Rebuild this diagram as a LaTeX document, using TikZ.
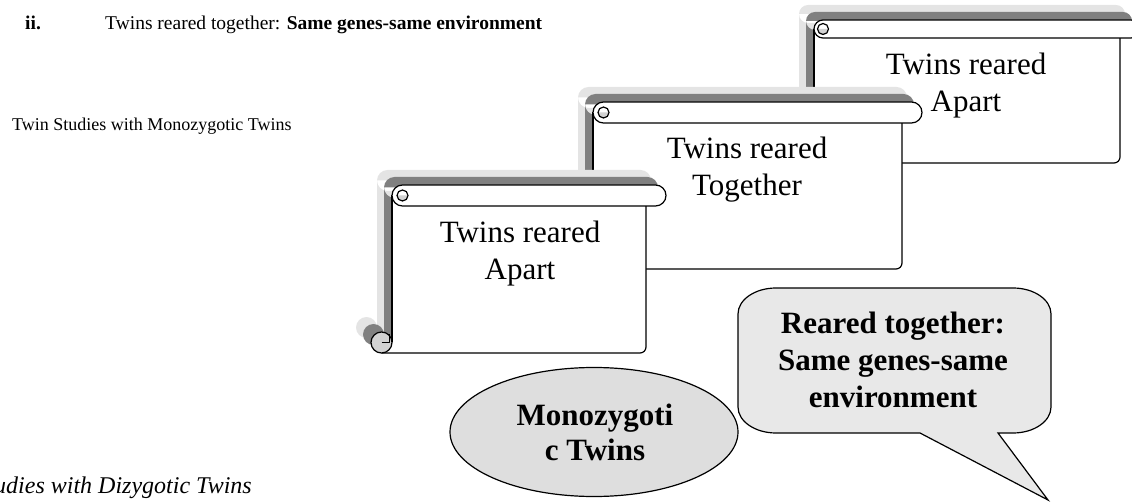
\documentclass[tikz,border=0pt]{standalone}
\usepackage{fontspec}
\setmainfont{Liberation Serif}
\usepackage{tikz}
\usetikzlibrary{shapes.geometric, positioning}

\definecolor{shadowdark}{HTML}{808080}
\definecolor{shadowlight}{HTML}{E4E4E4}
\definecolor{curlgray}{HTML}{D2D2D2}
\definecolor{bubblegray}{HTML}{E8E8E8}
\definecolor{monogray}{HTML}{DEDEDE}

\tikzset{
	scrollline/.style={line width=1.2pt, line join=round},
	scrolltext/.style={font=\fontsize{31}{37}\selectfont, align=center, anchor=base, inner sep=0pt},
	bubbletext/.style={font=\bfseries\fontsize{31}{37}\selectfont, align=center, anchor=base, inner sep=0pt},
	headtext/.style={font=\fontsize{19.5}{24}\selectfont, anchor=base west, inner sep=0pt},
	monoshape/.style={ellipse, draw, fill=monogray, line width=1.2pt, minimum width=288pt, minimum height=129pt, inner sep=0pt},
}

% scroll: left, top, right, bottom, roll height
\newcommand{\twinscroll}[5]{%
	\pgfmathsetmacro{\scR}{#5/2}
	\pgfmathsetmacro{\scLa}{#1+\scR}
	\pgfmathsetmacro{\scRa}{#3+20-\scR}
	\pgfmathsetmacro{\scTm}{#2+\scR}
	\pgfmathsetmacro{\scTb}{#2+#5}
	\pgfmathsetmacro{\scCx}{#1-10.5}
	\pgfmathsetmacro{\scCy}{#4-10.5}
	\pgfmathsetmacro{\scLm}{#1-2.5}
	% two shadows up and to the left
	\foreach \off/\col in {15/shadowlight, 8/shadowdark}
	\fill[\col, shift={(-\off,-\off)}] (\scLa,#2) -- (\scRa,#2) arc[start angle=-90, end angle=90, radius=\scR] -- (\scLa,\scTb) arc[start angle=90, end angle=270, radius=\scR] -- cycle (#1,\scTm) rectangle (#3,#4) (\scCx,\scCy) circle[radius=10.5];
	% sheet
	\fill[white, rounded corners=6] (#1,\scTm) -- (#3,\scTm) -- (#3,#4) -- (#1,#4) -- cycle;
	\draw[scrollline] (#1,\scTm) -- (#1,\scCy);
	\draw[scrollline, rounded corners=6] (\scCx,#4) -- (#3,#4) -- (#3,\scTb);
	% bottom curl
	\filldraw[scrollline, fill=curlgray] (\scCx,\scCy) circle[radius=10.5];
	\draw[scrollline] (\scCx,\scCy) -- (\scLm,\scCy) -- (\scLm,{\scCy-8});
	% top roll
	\filldraw[scrollline, fill=white] (\scLa,#2) -- (\scRa,#2) arc[start angle=-90, end angle=90, radius=\scR] -- (\scLa,\scTb) arc[start angle=90, end angle=270, radius=\scR] -- cycle;
	\fill[curlgray] ({\scLa-5.5},\scTm) arc[start angle=180, end angle=0, radius=5.5] -- cycle;
	\draw[scrollline] (\scLa,\scTm) circle[radius=5.5];
}

\begin{document}
\begin{tikzpicture}[x=1pt, y=-1pt]
	\useasboundingbox (0,0) rectangle (1132,502);
	
	% Text around the picture
	\node[headtext] (roman) at (25,30) {\textbf{ii.}};
	\node[headtext] (pointtwo) at (105,30) {Twins reared together: \textbf{Same genes-same environment}};
	\node[headtext, font=\fontsize{18}{22}\selectfont] (monohead) at (12,131) {Twin Studies with Monozygotic Twins};
	\node[headtext, anchor=base east, font=\itshape\fontsize{24}{28}\selectfont] (dihead) at (252,493) {Twin Studies with Dizygotic Twins};
	
	% Draw the scrolls, back to front (text anchored on last line)
	\twinscroll{814}{20}{1120}{163}{18}
	\node[scrolltext] (apartback) at (966,112) {Twins reared\\Apart};
	\twinscroll{593}{102}{902}{269}{21}
	\node[scrolltext] (together) at (747,196) {Twins reared\\Together};
	\twinscroll{392}{185}{646}{353}{21}
	\node[scrolltext] (apart) at (520,280) {Twins reared\\Apart};
	
	% Monozygotic ellipse
	\node[monoshape] (mono) at (594,432) {};
	\node[bubbletext, font=\bfseries\fontsize{31}{35}\selectfont] (monotext) at (595,460) {Monozygoti\\c Twins};
	
	% Speech bubble
	\draw[line width=1.2pt, fill=bubblegray] (776,288) -- (1013,288) arc[start angle=-90, end angle=0, x radius=38, y radius=26] -- (1051,407) arc[start angle=0, end angle=90, x radius=38, y radius=26] -- (998,433) -- (1048,500) -- (920,433) -- (776,433) arc[start angle=90, end angle=180, x radius=38, y radius=26] -- (738,314) arc[start angle=180, end angle=270, x radius=38, y radius=26] -- cycle;
	\node[bubbletext] (reared) at (893,407) {Reared together:\\Same genes-same\\environment};
	
\end{tikzpicture}
\end{document}
